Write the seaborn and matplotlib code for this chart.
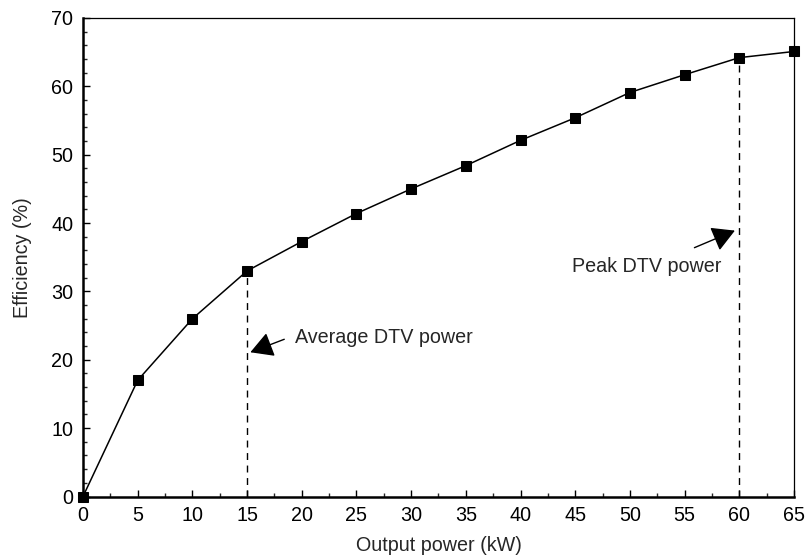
import numpy as np
import pandas as pd
import matplotlib
matplotlib.use("Agg")
import matplotlib.pyplot as plt
from matplotlib.ticker import MultipleLocator
import seaborn as sns

# Measured efficiency versus output power
power_kw = [0, 5, 10, 15, 20, 25, 30, 35, 40, 45, 50, 55, 60, 65]
efficiency_pct = [0, 17.0, 26.0, 33.0, 37.3, 41.4, 45.0, 48.4, 52.1, 55.4, 59.1, 61.7, 64.2, 65.1]

# Operating points marked on the curve
avg_dtv_kw = 15
peak_dtv_kw = 60

x_ticks = [0, 5, 10, 15, 20, 25, 30, 35, 40, 45, 50, 55, 60, 65]
y_ticks = [0, 10, 20, 30, 40, 50, 60, 70]

df = pd.DataFrame({"power": power_kw, "eff": efficiency_pct})

sns.set_theme(style="ticks")
plt.rcParams["font.family"] = ["Liberation Sans", "DejaVu Sans"]

FS = 14.2

fig = plt.figure(figsize=(8.09, 5.57), dpi=100)
ax = fig.add_axes([0.1026, 0.1086, 0.8788, 0.8591])

sns.lineplot(data=df, x="power", y="eff", ax=ax, color="black", lw=1.1,
             marker="s", markersize=7, markeredgecolor="black",
             markerfacecolor="black", clip_on=False, zorder=3)

# Dashed drop lines at the average and peak operating points
eff_map = dict(zip(power_kw, efficiency_pct))
ax.vlines([avg_dtv_kw, peak_dtv_kw], 0,
          [eff_map[avg_dtv_kw], eff_map[peak_dtv_kw]],
          colors="black", linestyles=(0, (5, 4)), lw=1.0, zorder=2)

arrow = dict(arrowstyle="-|>,head_length=0.5,head_width=0.28", color="black",
             lw=1.0, mutation_scale=28, shrinkA=0, shrinkB=0)
ax.annotate("", xy=(15.3, 21.1), xytext=(18.4, 23.0), arrowprops=arrow)
ax.text(19.4, 23.3, "Average DTV power", fontsize=FS, va="center", ha="left")
ax.annotate("", xy=(59.6, 38.9), xytext=(55.9, 36.4), arrowprops=arrow)
ax.text(51.5, 33.6, "Peak DTV power", fontsize=FS, va="center", ha="center")

ax.set_xlim(0, 65)
ax.set_ylim(0, 70)
ax.set_xticks(x_ticks)
ax.set_yticks(y_ticks)
ax.xaxis.set_minor_locator(MultipleLocator(2.5))
ax.yaxis.set_minor_locator(MultipleLocator(2))
ax.tick_params(axis="both", which="major", direction="in", length=5, width=1,
               labelsize=FS, colors="black", pad=7)
ax.tick_params(axis="both", which="minor", direction="in", length=3, width=1)
ax.tick_params(top=False, right=False, which="both")

for side in ["left", "bottom"]:
    ax.spines[side].set_linewidth(1.8)
for side in ["top", "right"]:
    ax.spines[side].set_linewidth(0.9)
for sp in ax.spines.values():
    sp.set_color("black")

ax.set_xlabel("Output power (kW)", fontsize=FS, labelpad=8)
ax.set_ylabel("Efficiency (%)", fontsize=FS, labelpad=14)

fig.savefig("out.png", dpi=100)
